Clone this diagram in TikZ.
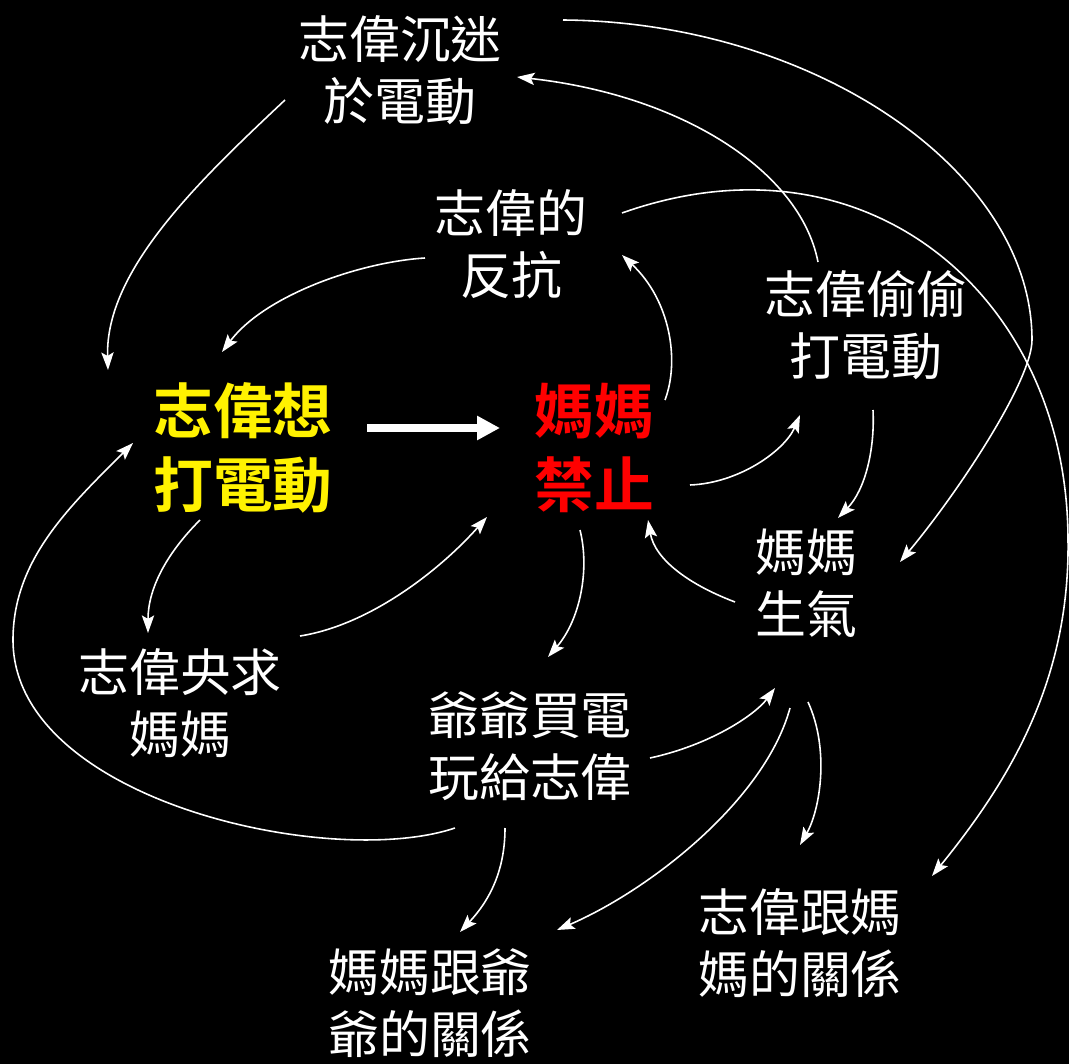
\documentclass[tikz,border=0pt]{standalone}
\usepackage{fontspec}
\newfontfamily\cjk{Noto Sans CJK TC}[BoldFont={Noto Sans CJK TC Bold}]
\usetikzlibrary{arrows.meta,calc}

\begin{document}
\begin{tikzpicture}[x=0.02cm,y=-0.02cm]

	% Hintergrund
	\fill[black] (0,0) rectangle (1069,1064);
	\useasboundingbox (0,0) rectangle (1069,1064);

	% Styles
	\tikzstyle{box} = [text=white,align=center,inner sep=0pt,font=\cjk\fontsize{29}{35}\selectfont]
	\tikzstyle{hot} = [align=center,inner sep=0pt,font=\cjk\bfseries\fontsize{34}{42.5}\selectfont]
	\tikzstyle{pfeil} = [white,line width=0.9pt,-{Stealth[length=10pt,width=7pt,inset=2pt]}]
	\tikzstyle{dick} = [white,line width=4.5pt,-{Triangle[length=13pt,width=13pt]}]

	% Knoten
	\node at (400,70) [box] (sink) {志偉沉迷\\於電動};
	\node at (511,244) [box] (resist) {志偉的\\反抗};
	\node at (866,325) [box] (secret) {志偉偷偷\\打電動};
	\node at (243,448) [hot,text=yellow] (want) {志偉想\\打電動};
	\node at (594,448) [hot,text=red] (forbid) {媽媽\\禁止};
	\node at (806,583) [box] (angry) {媽媽\\生氣};
	\node at (180,703) [box] (beg) {志偉央求\\媽媽};
	\node at (530,746) [box] (grandpa) {爺爺買電\\玩給志偉};
	\node at (430,1003) [box] (momgp) {媽媽跟爺\\爺的關係};
	\node at (800,943) [box] (momzw) {志偉跟媽\\媽的關係};

	% Hauptpfeil
	\draw[dick] ($(want)+(124,-20)$) -- ($(forbid)+(-94,-20)$);

	% Pfeile oben
	\draw[pfeil] ($(sink)+(-115,30)$) .. controls +(-85,80) and +(-3,-100) .. ($(want)+(-135,-78)$);
	\draw[pfeil] ($(resist)+(-86,14)$) .. controls +(-65,4) and +(43,-57) .. ($(want)+(-21,-96)$);
	\draw[pfeil] ($(forbid)+(71,-48)$) .. controls +(15,-40) and +(48,45) .. ($(resist)+(111,11)$);
	\draw[pfeil] ($(secret)+(-48,-63)$) .. controls +(-18,-92) and +(163,18) .. ($(sink)+(117,7)$);
	\draw[pfeil] ($(sink)+(163,-50)$) .. controls +(250,2) and +(0,-170) .. (1032,340)
		.. controls +(0,40) and +(60,-72) .. ($(angry)+(94,-21)$);
	\draw[pfeil] ($(resist)+(111,-31)$) .. controls +(248,-88) and +(0,-240) .. (1068,540)
		.. controls +(2,140) and +(78,-96) .. ($(momzw)+(132,-67)$);

	% Pfeile rechts
	\draw[pfeil] ($(forbid)+(96,37)$) .. controls +(50,-2) and +(-15,35) .. ($(secret)+(-66,90)$);
	\draw[pfeil] ($(secret)+(7,85)$) .. controls +(2,40) and +(27,-28) .. ($(angry)+(32,-65)$);
	\draw[pfeil] ($(angry)+(-71,19)$) .. controls +(-45,-17) and +(7,40) .. ($(forbid)+(54,72)$);

	% Pfeile links und unten
	\draw[pfeil] ($(want)+(-43,72)$) .. controls +(-35,35) and +(0,-43) .. ($(beg)+(-32,-70)$);
	\draw[pfeil] ($(beg)+(120,-67)$) .. controls +(70,-11) and +(-47,53) .. ($(forbid)+(-107,69)$);
	\draw[pfeil] ($(forbid)+(-14,82)$) .. controls +(10,40) and +(32,-37) .. ($(grandpa)+(18,-89)$);
	\draw[pfeil] ($(grandpa)+(120,12)$) .. controls +(60,-13) and +(-20,27) .. ($(angry)+(-31,105)$);
	\draw[pfeil] ($(grandpa)+(-75,82)$) .. controls +(-125,42) and +(0,160) .. (13,640)
		.. controls +(0,-80) and +(-64,64) .. ($(want)+(-110,-5)$);
	\draw[pfeil] ($(grandpa)+(-25,82)$) .. controls +(0,42) and +(30,-32) .. ($(momgp)+(30,-71)$);
	\draw[pfeil] ($(angry)+(-16,125)$) .. controls +(-25,92) and +(93,-40) .. ($(momgp)+(127,-73)$);
	\draw[pfeil] ($(angry)+(2,119)$) .. controls +(22,48) and +(20,-35) .. ($(momzw)+(0,-98)$);

\end{tikzpicture}
\end{document}
